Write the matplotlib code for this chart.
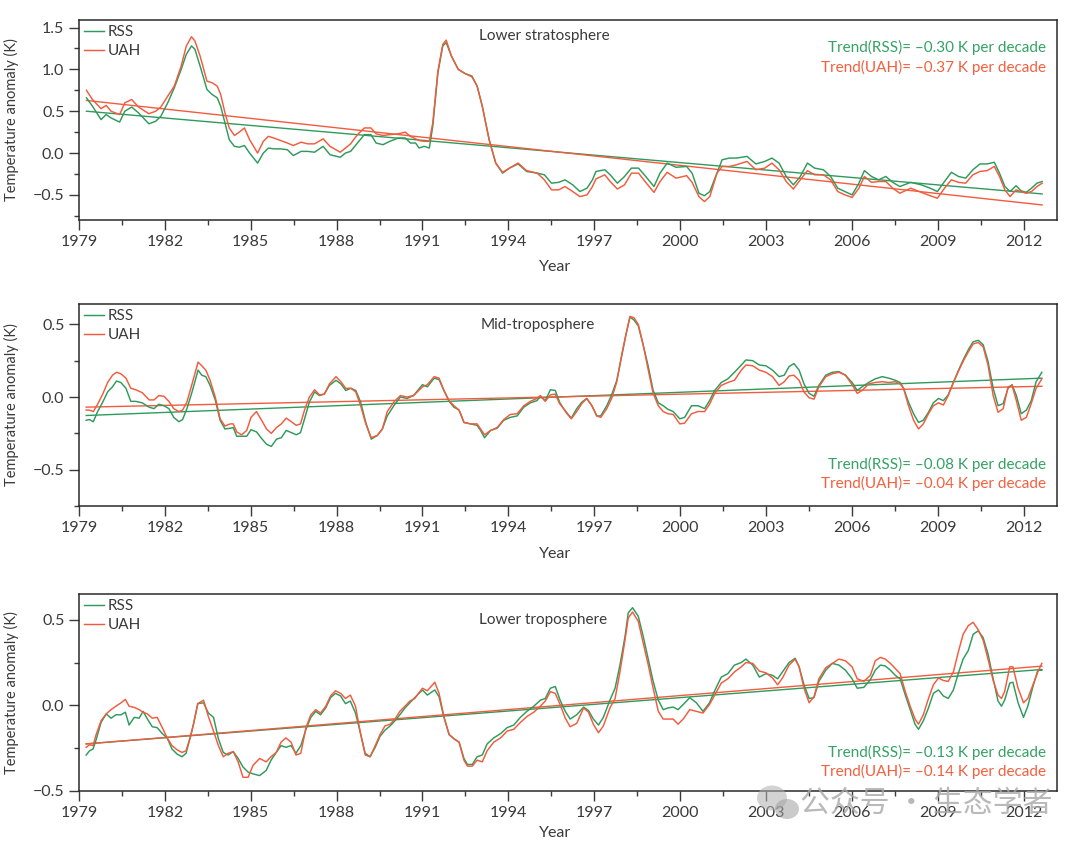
import numpy as np
import matplotlib
matplotlib.use("Agg")
import matplotlib.pyplot as plt
from matplotlib.ticker import FixedLocator, FuncFormatter
from matplotlib.patches import Ellipse

plt.rcParams['font.family'] = ['Lato', 'DejaVu Sans']

# ---------------- data: lower stratosphere ----------------
yr_ls = [1979.26,1979.47,1979.77,1979.95,1980.12,1980.42,1980.60,1980.84,1981.08,1981.44,
         1981.68,1981.86,1982.10,1982.33,1982.57,1982.75,1982.93,1983.05,1983.23,1983.47,
         1983.65,1983.83,1983.95,1984.10,1984.25,1984.43,1984.60,1984.78,1984.96,1985.24,
         1985.44,1985.62,1985.80,1986.04,1986.28,1986.49,1986.76,1986.99,1987.23,1987.53,
         1987.77,1988.13,1988.31,1988.49,1988.73,1988.97,1989.20,1989.38,1989.62,1989.86,
         1990.16,1990.40,1990.58,1990.76,1990.88,1991.06,1991.24,1991.36,1991.54,1991.71,
         1991.83,1992.01,1992.25,1992.49,1992.73,1992.91,1993.09,1993.33,1993.56,1993.80,
         1994.04,1994.34,
         1994.64,1995.01,1995.26,1995.51,1995.76,1995.98,1996.25,1996.50,1996.75,1996.94,
         1997.06,1997.37,1997.56,1997.81,1998.06,1998.30,1998.55,1998.80,1999.09,1999.30,
         1999.55,1999.86,2000.23,2000.42,2000.66,2000.85,2001.04,2001.29,2001.47,2001.72,
         2001.97,2002.34,2002.65,2002.96,2003.21,2003.46,2003.71,2003.96,2004.20,2004.45,
         2004.70,2005.01,2005.26,2005.51,2005.76,2006.01,2006.25,2006.44,2006.69,2006.94,
         2007.19,2007.43,2007.68,2008.06,2008.43,2008.74,2008.99,2009.24,2009.48,2009.73,
         2009.98,2010.23,2010.48,2010.73,2010.98,2011.16,2011.35,2011.53,2011.74,2011.91,
         2012.09,2012.28,2012.47,2012.65]
rss_ls = [0.66,0.56,0.40,0.46,0.42,0.37,0.50,0.55,0.48,0.35,
          0.38,0.44,0.60,0.78,1.00,1.18,1.28,1.24,1.04,0.76,
          0.70,0.66,0.56,0.36,0.16,0.08,0.07,0.09,0.00,-0.12,
          0.00,0.06,0.05,0.05,0.04,-0.03,0.02,0.02,0.01,0.08,
          -0.02,-0.05,0.00,0.02,0.12,0.22,0.22,0.12,0.10,0.14,
          0.18,0.18,0.12,0.12,0.06,0.08,0.06,0.32,0.96,1.28,
          1.32,1.16,1.00,0.95,0.92,0.80,0.56,0.16,-0.12,-0.24,
          -0.18,-0.13,
          -0.22,-0.24,-0.26,-0.36,-0.35,-0.32,-0.38,-0.46,-0.42,-0.32,
          -0.22,-0.20,-0.26,-0.36,-0.28,-0.18,-0.18,-0.28,-0.40,-0.24,
          -0.12,-0.17,-0.16,-0.24,-0.48,-0.51,-0.46,-0.24,-0.08,-0.06,
          -0.06,-0.04,-0.13,-0.10,-0.06,-0.12,-0.28,-0.38,-0.28,-0.12,
          -0.18,-0.20,-0.28,-0.42,-0.46,-0.50,-0.36,-0.21,-0.28,-0.32,
          -0.28,-0.35,-0.40,-0.35,-0.38,-0.42,-0.46,-0.34,-0.23,-0.28,
          -0.30,-0.20,-0.13,-0.13,-0.11,-0.24,-0.40,-0.46,-0.39,-0.45,
          -0.47,-0.42,-0.36,-0.34]
uah_ls = [0.75,0.64,0.53,0.57,0.50,0.46,0.60,0.64,0.55,0.47,
          0.50,0.55,0.68,0.80,1.04,1.28,1.39,1.34,1.16,0.86,
          0.84,0.80,0.70,0.48,0.30,0.21,0.25,0.30,0.16,0.00,
          0.14,0.20,0.18,0.15,0.12,0.09,0.13,0.11,0.11,0.17,
          0.08,0.01,0.06,0.11,0.22,0.30,0.30,0.23,0.21,0.22,
          0.23,0.25,0.20,0.17,0.15,0.14,0.14,0.36,0.98,1.30,
          1.35,1.16,1.00,0.95,0.91,0.80,0.56,0.16,-0.12,-0.23,
          -0.18,-0.12,
          -0.21,-0.24,-0.32,-0.44,-0.44,-0.40,-0.46,-0.52,-0.50,-0.40,
          -0.31,-0.26,-0.34,-0.43,-0.38,-0.24,-0.24,-0.35,-0.47,-0.34,
          -0.23,-0.30,-0.27,-0.35,-0.52,-0.58,-0.52,-0.24,-0.16,-0.16,
          -0.14,-0.10,-0.20,-0.18,-0.12,-0.20,-0.34,-0.43,-0.32,-0.21,
          -0.26,-0.26,-0.32,-0.46,-0.50,-0.53,-0.42,-0.28,-0.35,-0.34,
          -0.34,-0.42,-0.48,-0.42,-0.47,-0.51,-0.54,-0.42,-0.32,-0.35,
          -0.36,-0.26,-0.22,-0.21,-0.16,-0.28,-0.44,-0.52,-0.44,-0.46,
          -0.48,-0.46,-0.40,-0.36]

# ---------------- data: mid-troposphere ----------------
yr_mt = [1979.25,1979.36,1979.50,1979.65,1979.83,1980.00,1980.17,1980.31,1980.46,1980.64,
         1980.81,1980.98,1981.21,1981.45,1981.62,1981.79,1981.97,1982.14,1982.31,1982.49,
         1982.62,1982.77,1982.95,1983.16,1983.29,1983.43,1983.58,1983.76,1983.93,1984.10,
         1984.28,1984.39,1984.51,1984.68,1984.86,1985.01,1985.20,1985.38,1985.55,1985.72,
         1985.90,1986.07,1986.24,1986.42,1986.59,1986.74,1986.88,1987.05,1987.23,1987.40,
         1987.57,1987.75,1987.98,1988.15,1988.32,1988.50,1988.67,1988.84,1989.02,1989.21,
         1989.42,1989.60,1989.77,1990.00,1990.23,1990.46,1990.69,
         1991.00,1991.17,1991.41,1991.58,1991.75,1991.93,1992.10,1992.28,1992.45,1992.68,
         1992.91,1993.03,1993.17,1993.38,1993.61,1993.84,1994.07,1994.31,1994.54,1994.77,
         1995.00,1995.12,1995.29,1995.47,1995.64,1995.79,1995.93,1996.05,1996.20,1996.39,
         1996.57,1996.74,1996.92,1997.09,1997.23,1997.44,1997.61,1997.79,1997.96,1998.11,
         1998.25,1998.39,1998.54,1998.71,1998.89,1999.06,1999.24,1999.41,1999.58,1999.76,
         1999.99,2000.16,2000.40,2000.63,2000.86,2001.03,2001.21,2001.44,2001.67,2001.90,
         2002.14,
         2002.30,2002.54,2002.77,2003.00,2003.23,2003.46,2003.64,2003.81,2003.98,2004.16,
         2004.33,2004.51,2004.68,2004.85,2005.09,2005.32,2005.55,2005.78,2006.01,2006.19,
         2006.36,2006.59,2006.82,2007.06,2007.29,2007.52,2007.69,2007.81,2007.98,2008.16,
         2008.33,2008.50,2008.68,2008.85,2009.03,2009.20,2009.37,2009.55,2009.72,2009.89,
         2010.07,2010.24,2010.42,2010.59,2010.76,2010.94,2011.11,2011.29,2011.46,2011.60,
         2011.75,2011.92,2012.10,2012.27,2012.44,2012.64]
rss_mt = [-0.16,-0.155,-0.17,-0.10,-0.035,0.035,0.07,0.11,0.10,0.06,
          -0.03,-0.03,-0.04,-0.07,-0.08,-0.05,-0.06,-0.08,-0.14,-0.17,
          -0.155,-0.08,0.035,0.185,0.15,0.14,0.08,-0.02,-0.16,-0.22,
          -0.215,-0.21,-0.27,-0.27,-0.27,-0.225,-0.24,-0.285,-0.325,-0.34,
          -0.29,-0.28,-0.23,-0.245,-0.26,-0.245,-0.15,-0.035,0.035,0.01,
          0.02,0.08,0.115,0.09,0.045,0.06,0.045,-0.035,-0.175,-0.29,
          -0.265,-0.22,-0.13,-0.06,0.0,-0.01,0.01,
          0.085,0.07,0.13,0.12,0.045,-0.03,-0.07,-0.09,-0.175,-0.185,
          -0.195,-0.23,-0.28,-0.23,-0.215,-0.16,-0.14,-0.13,-0.07,-0.04,
          -0.025,0.005,-0.025,0.05,0.045,-0.035,-0.08,-0.11,-0.145,-0.08,
          -0.035,-0.01,-0.06,-0.13,-0.13,-0.06,0.015,0.115,0.28,0.43,
          0.55,0.53,0.49,0.36,0.21,0.045,-0.04,-0.06,-0.085,-0.10,
          -0.15,-0.14,-0.06,-0.06,-0.08,-0.025,0.045,0.10,0.125,0.17,
          0.22,
          0.255,0.25,0.22,0.215,0.185,0.14,0.15,0.21,0.23,0.185,
          0.09,0.025,0.005,0.08,0.15,0.17,0.175,0.15,0.10,0.045,
          0.07,0.10,0.125,0.14,0.13,0.115,0.10,0.06,-0.035,-0.115,
          -0.175,-0.16,-0.105,-0.04,-0.01,-0.025,0.015,0.10,0.18,0.255,
          0.325,0.38,0.39,0.36,0.245,0.06,-0.06,-0.045,0.06,0.085,
          0.01,-0.115,-0.09,-0.025,0.105,0.17]
uah_mt = [-0.09,-0.09,-0.10,-0.05,0.02,0.10,0.15,0.17,0.16,0.13,
          0.06,0.05,0.03,-0.02,-0.02,0.01,0.005,-0.03,-0.08,-0.10,
          -0.09,-0.035,0.09,0.24,0.215,0.185,0.115,0.0,-0.15,-0.20,
          -0.185,-0.185,-0.24,-0.26,-0.23,-0.14,-0.10,-0.16,-0.22,-0.25,
          -0.21,-0.185,-0.145,-0.17,-0.195,-0.185,-0.09,0.0,0.05,0.015,
          0.02,0.09,0.14,0.105,0.06,0.06,0.035,-0.06,-0.185,-0.28,
          -0.265,-0.22,-0.10,-0.035,0.01,0.0,0.01,
          0.07,0.085,0.14,0.13,0.045,-0.025,-0.06,-0.09,-0.175,-0.185,
          -0.185,-0.22,-0.26,-0.23,-0.21,-0.155,-0.12,-0.115,-0.06,-0.03,
          -0.01,0.01,-0.03,0.015,0.02,-0.045,-0.08,-0.115,-0.15,-0.10,
          -0.045,-0.01,-0.06,-0.13,-0.14,-0.08,-0.01,0.105,0.29,0.43,
          0.555,0.545,0.50,0.36,0.185,0.025,-0.06,-0.10,-0.115,-0.12,
          -0.185,-0.18,-0.115,-0.10,-0.10,-0.05,0.025,0.08,0.10,0.115,
          0.185,
          0.22,0.215,0.185,0.17,0.14,0.08,0.105,0.145,0.15,0.115,
          0.035,-0.005,-0.015,0.07,0.14,0.16,0.17,0.15,0.085,0.025,
          0.045,0.09,0.10,0.105,0.10,0.105,0.09,0.06,-0.06,-0.16,
          -0.22,-0.185,-0.115,-0.06,-0.04,-0.055,0.01,0.10,0.175,0.245,
          0.31,0.365,0.375,0.345,0.22,0.01,-0.105,-0.08,0.07,0.08,
          -0.025,-0.16,-0.14,-0.045,0.06,0.125]

# ---------------- data: lower troposphere ----------------
yr_lt = [1979.25,1979.37,1979.49,1979.60,1979.77,1979.95,1980.12,1980.29,1980.47,1980.62,
         1980.75,1980.93,1981.10,1981.24,1981.39,1981.56,1981.73,1981.91,1982.08,1982.25,
         1982.43,1982.60,1982.74,1982.89,1983.00,1983.15,1983.35,1983.52,1983.70,1983.87,
         1984.04,1984.21,1984.39,1984.56,1984.73,1984.91,1985.08,1985.31,1985.54,1985.71,
         1985.89,1986.06,1986.23,1986.41,1986.58,1986.75,1986.93,1987.10,1987.27,1987.44,
         1987.62,1987.79,1987.96,1988.14,1988.31,1988.48,1988.66,1988.83,1989.00,1989.17,
         1989.35,1989.52,1989.69,1989.87,1990.04,1990.21,1990.39,1990.56,1990.73,
         1991.00,1991.17,1991.43,1991.58,1991.75,1991.93,1992.10,1992.28,1992.45,1992.57,
         1992.74,1992.91,1993.09,1993.26,1993.49,1993.73,1993.96,1994.19,1994.42,1994.65,
         1994.89,1995.12,1995.29,1995.47,1995.64,1995.81,1995.99,1996.16,1996.39,1996.63,
         1996.80,1996.97,1997.15,1997.32,1997.55,1997.73,1997.90,1998.08,1998.19,1998.34,
         1998.54,1998.71,1998.89,1999.06,1999.24,1999.41,1999.58,1999.76,1999.93,2000.11,
         2000.34,2000.57,2000.80,2001.03,2001.21,2001.44,2001.67,2001.90,2002.14,
         2002.30,2002.54,2002.77,2003.00,2003.23,2003.41,2003.58,2003.81,2004.02,2004.16,
         2004.33,2004.51,2004.68,2004.85,2005.09,2005.32,2005.55,2005.78,2006.01,2006.19,
         2006.42,2006.65,2006.82,2007.00,2007.17,2007.35,2007.52,2007.69,2007.87,2008.04,
         2008.21,2008.33,2008.50,2008.68,2008.85,2009.03,2009.20,2009.37,2009.55,2009.72,
         2009.89,2010.07,2010.24,2010.42,2010.59,2010.76,2010.94,2011.11,2011.23,2011.34,
         2011.52,2011.63,2011.81,2012.00,2012.15,2012.33,2012.50,2012.64]
rss_lt = [-0.29,-0.265,-0.255,-0.20,-0.10,-0.05,-0.075,-0.055,-0.055,-0.04,
          -0.115,-0.07,-0.075,-0.035,-0.08,-0.125,-0.13,-0.165,-0.19,-0.255,
          -0.285,-0.30,-0.28,-0.185,-0.11,0.01,0.015,-0.045,-0.07,-0.195,
          -0.275,-0.29,-0.27,-0.31,-0.36,-0.39,-0.40,-0.41,-0.38,-0.32,
          -0.275,-0.235,-0.245,-0.235,-0.28,-0.235,-0.14,-0.07,-0.035,-0.055,
          -0.015,0.045,0.07,0.055,0.01,0.025,-0.045,-0.16,-0.28,-0.30,
          -0.245,-0.18,-0.145,-0.12,-0.09,-0.055,-0.015,0.015,0.045,
          0.09,0.06,0.09,0.05,-0.07,-0.17,-0.195,-0.215,-0.31,-0.345,
          -0.345,-0.30,-0.29,-0.225,-0.19,-0.165,-0.13,-0.115,-0.07,-0.035,
          -0.005,0.03,0.04,0.10,0.11,0.03,-0.035,-0.08,-0.055,-0.01,
          -0.03,-0.08,-0.115,-0.07,0.03,0.10,0.235,0.405,0.54,0.57,
          0.52,0.405,0.27,0.14,0.03,-0.025,-0.015,-0.01,-0.025,0.005,
          0.045,0.015,-0.035,0.015,0.085,0.165,0.185,0.235,0.25,
          0.27,0.235,0.165,0.185,0.175,0.155,0.195,0.25,0.275,0.225,
          0.12,0.04,0.045,0.14,0.205,0.245,0.235,0.205,0.155,0.10,
          0.105,0.15,0.205,0.235,0.23,0.205,0.175,0.155,0.06,-0.025,
          -0.11,-0.14,-0.09,-0.015,0.07,0.09,0.055,0.04,0.09,0.185,
          0.27,0.32,0.415,0.435,0.395,0.30,0.155,0.025,-0.005,0.03,
          0.13,0.135,0.015,-0.07,-0.005,0.11,0.205,0.205]
uah_lt = [-0.245,-0.23,-0.235,-0.17,-0.09,-0.05,-0.025,-0.005,0.015,0.035,
          -0.005,-0.012,-0.025,-0.04,-0.05,-0.075,-0.07,-0.13,-0.19,-0.235,
          -0.26,-0.275,-0.265,-0.185,-0.11,0.01,0.03,-0.065,-0.15,-0.235,
          -0.30,-0.28,-0.27,-0.33,-0.42,-0.42,-0.35,-0.31,-0.33,-0.30,
          -0.275,-0.215,-0.19,-0.215,-0.29,-0.28,-0.13,-0.055,-0.025,-0.045,
          -0.005,0.055,0.085,0.07,0.04,0.06,-0.005,-0.16,-0.29,-0.30,
          -0.235,-0.17,-0.12,-0.11,-0.08,-0.035,-0.005,0.025,0.04,
          0.10,0.085,0.135,0.07,-0.065,-0.17,-0.195,-0.215,-0.32,-0.355,
          -0.355,-0.32,-0.33,-0.265,-0.215,-0.19,-0.15,-0.14,-0.10,-0.065,
          -0.04,-0.005,0.025,0.08,0.07,0.005,-0.075,-0.125,-0.105,-0.015,
          -0.04,-0.11,-0.16,-0.12,-0.015,0.04,0.195,0.385,0.51,0.545,
          0.49,0.365,0.235,0.10,-0.035,-0.08,-0.08,-0.08,-0.11,-0.08,
          -0.025,-0.035,-0.045,0.005,0.06,0.13,0.155,0.195,0.225,
          0.25,0.245,0.20,0.19,0.16,0.12,0.16,0.235,0.27,0.225,
          0.10,0.015,0.05,0.155,0.22,0.245,0.27,0.26,0.225,0.155,
          0.14,0.175,0.26,0.28,0.27,0.245,0.215,0.185,0.08,-0.005,
          -0.08,-0.11,-0.055,0.04,0.12,0.16,0.145,0.14,0.195,0.31,
          0.415,0.465,0.485,0.44,0.38,0.27,0.145,0.06,0.04,0.08,
          0.225,0.225,0.10,0.015,0.04,0.12,0.195,0.245]

# trends: slope (K per decade) and fitted value at 1995.0
trend_slope = {"ls": (-0.296, -0.374), "mt": (0.077, 0.043), "lt": (0.130, 0.136)}
trend_1995 = {"ls": (0.034, 0.040), "mt": (-0.006, -0.002), "lt": (-0.020, -0.011)}
trend_text = {"ls": ("Trend(RSS)= \u20130.30 K per decade", "Trend(UAH)= \u20130.37 K per decade"),
              "mt": ("Trend(RSS)= \u20130.08 K per decade", "Trend(UAH)= \u20130.04 K per decade"),
              "lt": ("Trend(RSS)= \u20130.13 K per decade", "Trend(UAH)= \u20130.14 K per decade")}
titles = {"ls": "Lower stratosphere", "mt": "Mid-troposphere", "lt": "Lower troposphere"}
year_ticks = list(range(1979, 2013, 3))

GREEN = '#2f9a5c'
RED = '#f25b3d'
GREEN_T = '#35a265'
RED_T = '#f4603f'
DARK = '#3a3a3a'

fig = plt.figure(figsize=(10.8, 8.49), dpi=100)
W, H = 1080.0, 849.0
L, R = 79.0, 1057.0
boxes = {"ls": (20.0, 220.0), "mt": (304.0, 506.0), "lt": (594.0, 791.0)}
ylims = {"ls": (-0.80, 1.59), "mt": (-0.75, 0.64), "lt": (-0.50, 0.65)}
ymajor = {"ls": [-0.5, 0.0, 0.5, 1.0, 1.5], "mt": [-0.5, 0.0, 0.5], "lt": [-0.5, 0.0, 0.5]}
yminor = {"ls": [-0.75, -0.25, 0.25, 0.75, 1.25], "mt": [-0.75, -0.25, 0.25], "lt": [-0.25, 0.25]}
series = {"ls": (yr_ls, rss_ls, uah_ls), "mt": (yr_mt, rss_mt, uah_mt), "lt": (yr_lt, rss_lt, uah_lt)}
title_pos = {"ls": (0.476, 0.92), "mt": (0.469, 0.896), "lt": (0.475, 0.868)}
trend_pos = {"ls": (0.862, 0.762), "mt": (0.208, 0.114), "lt": (0.198, 0.10)}
xlabel_y = {"ls": -0.20, "mt": -0.205, "lt": -0.18}

def fmt(v, pos):
    s = "%.1f" % abs(v)
    return ("\u2212" + s) if v < -1e-9 else s

for key in ["ls", "mt", "lt"]:
    top, bot = boxes[key]
    ax = fig.add_axes([L / W, 1 - bot / H, (R - L) / W, (bot - top) / H])
    yr, rss, uah = series[key]
    n1 = min(len(yr), len(rss)); n2 = min(len(yr), len(uah))
    yr = np.array(yr)
    ax.plot(yr[:n1], rss[:n1], color=GREEN, lw=1.05, label='RSS', zorder=3,
            solid_joinstyle='round')
    ax.plot(yr[:n2], uah[:n2], color=RED, lw=1.05, label='UAH', zorder=3,
            solid_joinstyle='round')
    t = np.array([yr[0], yr[-1]])
    for slope, b, c in zip(trend_slope[key], trend_1995[key], (GREEN, RED)):
        ax.plot(t, b + slope / 10.0 * (t - 1995.0), color=c, lw=1.0, zorder=2)

    ax.set_xlim(1979.0, 2013.17)
    ax.set_ylim(*ylims[key])
    ax.xaxis.set_major_locator(FixedLocator(year_ticks))
    ax.xaxis.set_minor_locator(FixedLocator([y + 1.5 for y in year_ticks]))
    ax.yaxis.set_major_locator(FixedLocator(ymajor[key]))
    ax.yaxis.set_minor_locator(FixedLocator(yminor[key]))
    ax.yaxis.set_major_formatter(FuncFormatter(fmt))
    ax.tick_params(which='major', direction='out', length=7, width=1.0, colors=DARK,
                   labelsize=11.5, pad=3.5)
    ax.tick_params(which='minor', direction='out', length=3.5, width=1.0, colors=DARK)
    for sp in ax.spines.values():
        sp.set_color('#2a2a2a'); sp.set_linewidth(1.1)

    ax.set_ylabel('Temperature anomaly (K)', fontsize=10.5, color=DARK)
    ax.yaxis.set_label_coords(-0.061, 0.5)
    ax.set_xlabel('Year', fontsize=11.5, color=DARK)
    ax.xaxis.set_label_coords(0.487, xlabel_y[key])

    ax.text(title_pos[key][0], title_pos[key][1], titles[key], transform=ax.transAxes,
            ha='center', va='center', fontsize=11, color=DARK)
    y1, y2 = trend_pos[key]
    ax.text(0.989, y1, trend_text[key][0], transform=ax.transAxes, ha='right', va='center',
            fontsize=11, color=GREEN_T)
    ax.text(0.989, y2, trend_text[key][1], transform=ax.transAxes, ha='right', va='center',
            fontsize=11, color=RED_T)
    leg = ax.legend(loc='upper left', bbox_to_anchor=(0.0, 1.0), frameon=False, fontsize=11,
                    handlelength=1.3, handletextpad=0.25, labelspacing=0.3,
                    borderaxespad=0.15, borderpad=0.2)
    for txt in leg.get_texts():
        txt.set_color(DARK)

# watermark (WeChat overlay seen on the reference image)
wm_ax = fig.add_axes([0, 0, 1, 1], facecolor='none', zorder=10)
wm_ax.set_xlim(0, W); wm_ax.set_ylim(H, 0); wm_ax.axis('off')
wm_ax.add_patch(Ellipse((772, 798), 30, 25, color='#b0b0b0', alpha=0.55, lw=0))
wm_ax.add_patch(Ellipse((787, 809), 24, 20, color='#a0a0a0', alpha=0.55, lw=0))
wm_ax.text(926, 803, "\u516c\u4f17\u53f7 \u00b7 \u751f\u6001\u5b66\u8005", ha='center', va='center',
           fontsize=21.5, color='#a8a8a8', alpha=0.8,
           family=['Noto Sans CJK SC', 'DejaVu Sans'])

fig.savefig('out.png', dpi=100)
